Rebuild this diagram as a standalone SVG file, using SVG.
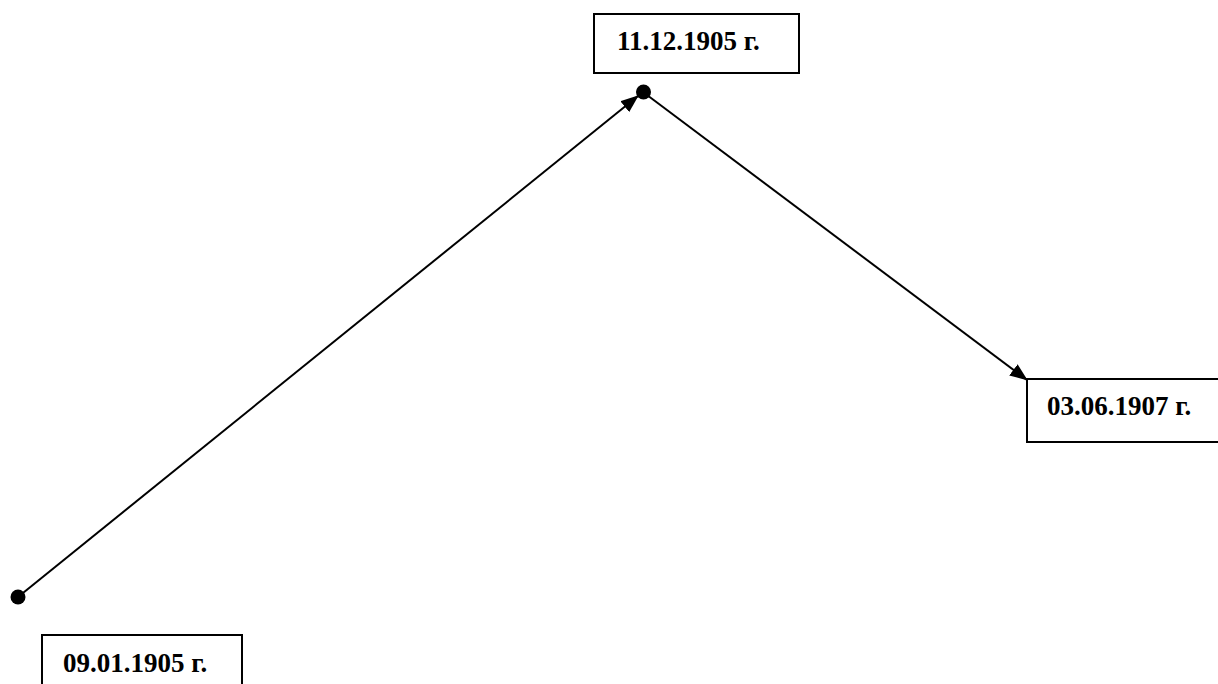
<svg xmlns="http://www.w3.org/2000/svg" width="1218" height="684" viewBox="0 0 1218 684">
<style>
.box{fill:#fff;stroke:#000;stroke-width:2}
.lbl{font-family:"Liberation Serif",serif;font-weight:bold;font-size:27px;fill:#000}
.conn{stroke:#000;stroke-width:2;fill:none}
</style>
<defs>
<marker id="arr" markerWidth="18" markerHeight="14" refX="17" refY="7" orient="auto" markerUnits="userSpaceOnUse">
<path d="M0,0 L18,7 L0,14 z" fill="#000"/>
</marker>
</defs>
<rect width="1218" height="684" fill="#fff"/>
<g id="n1"><rect class="box" x="594" y="14" width="205" height="59"/><text class="lbl" x="617" y="50">11.12.1905 г.</text></g>
<g id="n2"><rect class="box" x="1027" y="379" width="200" height="63"/><text class="lbl" x="1047" y="415">03.06.1907 г.</text></g>
<g id="n3"><rect class="box" x="42" y="635" width="200" height="60"/><text class="lbl" x="63" y="672">09.01.1905 г.</text></g>
<g id="connectors">
<line class="conn" x1="18" y1="597" x2="638" y2="96" marker-end="url(#arr)"/>
<line class="conn" x1="643" y1="92" x2="1027" y2="380" marker-end="url(#arr)"/>
<circle cx="18" cy="597" r="7.5" fill="#000"/>
<circle cx="643.5" cy="92" r="7.5" fill="#000"/>
</g>
</svg>
